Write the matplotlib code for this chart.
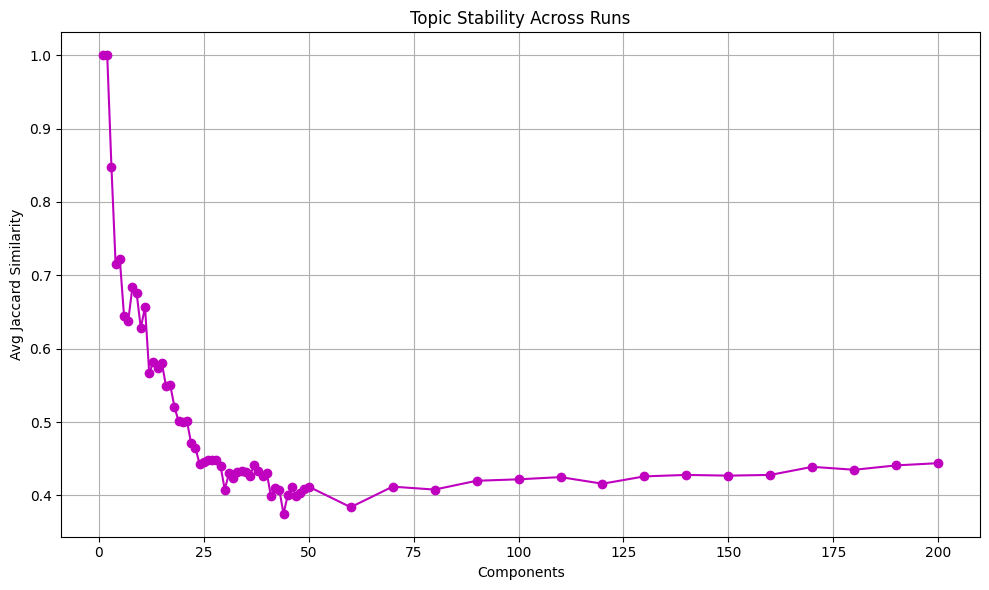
import matplotlib
matplotlib.use("Agg")
import matplotlib.pyplot as plt

# Data
components = list(range(1, 51)) + list(range(60, 201, 10))
similarity = [
    1.000, 1.000, 0.848, 0.715, 0.722, 0.645, 0.638, 0.684, 0.676, 0.628,
    0.657, 0.567, 0.582, 0.574, 0.581, 0.549, 0.551, 0.521, 0.501, 0.500,
    0.501, 0.471, 0.465, 0.443, 0.446, 0.448, 0.449, 0.449, 0.440, 0.408,
    0.430, 0.424, 0.432, 0.434, 0.432, 0.427, 0.441, 0.433, 0.426, 0.431,
    0.399, 0.410, 0.408, 0.375, 0.400, 0.412, 0.399, 0.404, 0.409, 0.412,
    0.384, 0.412, 0.408, 0.420, 0.422, 0.425, 0.416, 0.426, 0.428, 0.427,
    0.428, 0.439, 0.435, 0.441, 0.444,
]

# Plot
plt.figure(figsize=(10, 6))
plt.plot(components, similarity, marker='o', color='m')
plt.xlabel('Components')
plt.ylabel('Avg Jaccard Similarity')
plt.title('Topic Stability Across Runs')
plt.grid(True)
plt.tight_layout()
plt.savefig('out.png', dpi=100, bbox_inches='tight')
